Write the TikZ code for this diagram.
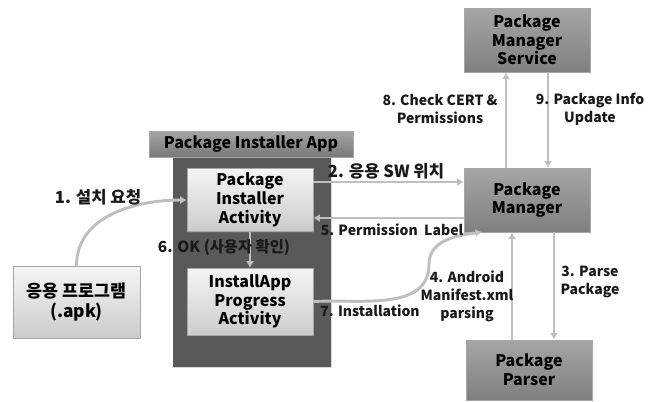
\documentclass[tikz,border=0pt]{standalone}
\usepackage{fontspec}
\setmainfont{Noto Sans CJK KR}
\usepackage{tikz}
\usetikzlibrary{arrows.meta,shadows}
\definecolor{linegray}{HTML}{BFBFBF}
\definecolor{appgray}{HTML}{595959}
\tikzset{
 box/.style={draw=gray!70,align=center,minimum width=94.5pt,minimum height=47pt,
  font=\bfseries\fontsize{12}{14}\selectfont,
  drop shadow={opacity=.35,shadow xshift=1pt,shadow yshift=-1pt}},
 litebox/.style={box,top color=white!96!black,bottom color=white!80!black},
 darkbox/.style={box,top color=white!65!black,bottom color=white!50!black},
 lbl/.style={align=center,text=black!90,font=\bfseries\fontsize{10.5}{13.5}\selectfont},
 krlbl/.style={lbl,font=\bfseries\fontsize{12.5}{14}\selectfont},
 flow/.style={draw=linegray,line width=2.2pt,-{Latex[length=5pt,width=6pt]}}
}
\begin{document}
\begin{tikzpicture}[x=0.75pt,y=-0.75pt]
\useasboundingbox(0,0)rectangle(657,401);
\fill[white](0,0)rectangle(657,401);
% installer app frame
\fill[appgray,drop shadow={opacity=.3,shadow xshift=1pt,shadow yshift=-1pt}](173,157)rectangle(331,367);
\node[box,top color=white!65!black,bottom color=white!47!black,minimum width=153pt,minimum height=19.5pt](hdr)at(251,144){Package Installer App};
\node[litebox](inst)at(250,200){Package\\Installer\\Activity};
\node[litebox,minimum height=50pt](prog)at(250,301.5){InstallApp\\Progress\\Activity};
\node[litebox,minimum width=95pt,minimum height=54pt,font=\bfseries\fontsize{13}{15}\selectfont](apk)at(76.5,302){응용 프로그램\\(.apk)};
\node[darkbox,minimum height=48pt](pms)at(527,40){Package\\Manager\\Service};
\node[darkbox,minimum height=48pt](pm)at(527,200){Package\\Manager};
\node[darkbox,minimum height=45pt](parser)at(529,370){Package\\Parser};
\coordinate(pmin)at(482,232);
% connectors
\draw[flow](apk.north)to[out=90,in=180](inst.west);
\draw[flow](inst.east|-0,182)--(pm.west|-0,182);
\draw[flow](pm.west|-0,218)--(inst.east|-0,218);
\draw[flow](inst.south)--(prog.north);
\draw[flow](prog.east)to[out=3,in=-90](429,264)to[out=90,in=188](pmin);
\draw[flow](pm.north-|506,0)--(pms.south-|506,0);
\draw[flow](pms.south-|548,0)--(pm.north-|548,0);
\draw[flow](pm.south-|554,0)--(parser.north-|554,0);
\draw[flow](parser.north-|512,0)--(pm.south-|512,0);
% labels
\node[krlbl](l1)at(98,197){1. 설치 요청};
\node[krlbl](l2)at(386,171){2. 응용 SW 위치};
\node[lbl](l5)at(392,230){5. Permission\ \ Label};
\node[lbl,font=\bfseries\fontsize{11.5}{13.5}\selectfont](l6)at(224,248){6. OK (사용자 확인)};
\node[lbl](l7)at(370,311){7. Installation};
\node[lbl](l4)at(467,296){4. Android\\Manifest.xml\\parsing};
\node[lbl](l3)at(590,282){3. Parse\\Package};
\node[lbl](l8)at(440,109){8. Check CERT \&\\Permissions};
\node[lbl](l9)at(590,109){9. Package Info\\Update};
\end{tikzpicture}
\end{document}
